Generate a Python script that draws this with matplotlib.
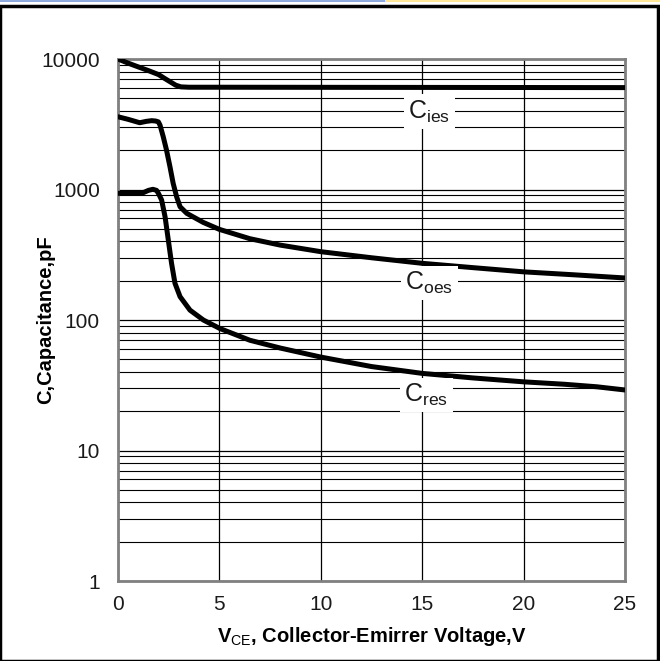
import numpy as np
import matplotlib
matplotlib.use("Agg")
import matplotlib.pyplot as plt
from matplotlib.patches import Rectangle
from matplotlib.ticker import LogLocator, FixedLocator, NullFormatter, FixedFormatter

plt.rcParams['font.family'] = ['Liberation Sans', 'DejaVu Sans']
plt.rcParams['mathtext.fontset'] = 'custom'
plt.rcParams['mathtext.rm'] = 'Liberation Sans'
plt.rcParams['mathtext.bf'] = 'Liberation Sans:bold'
plt.rcParams['mathtext.it'] = 'Liberation Sans:italic'

# Capacitance vs collector-emitter voltage (pF)
vce_ies = [0, 0.5, 1.0, 1.5, 2.0, 2.3, 2.6, 2.85, 3.1, 3.5, 5, 10, 15, 20, 25]
c_ies = [10000, 9300, 8700, 8150, 7600, 7100, 6650, 6300, 6120, 6080, 6080, 6070, 6060, 6050, 6040]

vce_oes = [0, 0.5, 1.07, 1.4, 1.66, 1.85, 1.99, 2.07, 2.23, 2.39, 2.56, 2.72, 2.89, 3.06, 3.39,
           4.2, 5.0, 6.5, 8.0, 10.0, 12.5, 15.0, 17.5, 20.0, 22.5, 25.0]
c_oes = [3610, 3450, 3250, 3330, 3370, 3350, 3300, 3120, 2540, 2010, 1500, 1115, 880, 738, 657,
         560, 495, 420, 375, 334, 300, 272, 252, 234, 222, 210]

vce_res = [0, 1.17, 1.5, 1.72, 1.9, 2.0, 2.15, 2.32, 2.48, 2.64, 2.81, 3.06, 3.55, 4.21, 5.03,
           6.5, 8.0, 10.0, 12.5, 15.0, 17.5, 20.0, 22.0, 23.6, 25.0]
c_res = [935, 935, 985, 1004, 985, 930, 832, 619, 410, 272, 191, 151, 119, 100, 86,
         70, 61, 52, 44, 39, 36, 33.6, 32.2, 30.8, 29.1]

x_ticks = [0, 5, 10, 15, 20, 25]
y_ticks = [1, 10, 100, 1000, 10000]
y_tick_labels = ['1', '10', '100', '1000', '10000']

curve_labels = [('C$_{\\mathrm{ies}}$', 15.35, 3960),
                ('C$_{\\mathrm{oes}}$', 15.35, 192),
                ('C$_{\\mathrm{res}}$', 15.2, 26.6)]

fig = plt.figure(figsize=(6.6, 6.61), dpi=100)
ax = fig.add_axes([0.1788, 0.1210, 0.7682, 0.7897])

ax.set_yscale('log')
ax.set_xlim(0, 25)
ax.set_ylim(1, 10000)

ax.yaxis.set_major_locator(FixedLocator(y_ticks))
ax.yaxis.set_major_formatter(FixedFormatter(y_tick_labels))
ax.yaxis.set_minor_locator(LogLocator(base=10, subs=np.arange(2, 10)))
ax.yaxis.set_minor_formatter(NullFormatter())
ax.xaxis.set_major_locator(FixedLocator(x_ticks))

ax.grid(which='major', color='black', lw=0.9)
ax.grid(which='minor', axis='y', color='black', lw=0.8)
ax.set_axisbelow(True)

for s in ax.spines.values():
    s.set_color('#808080')
    s.set_linewidth(2.0)

ax.tick_params(axis='both', which='both', length=0, labelsize=15, colors='#1a1a1a')
ax.tick_params(axis='y', pad=13)
ax.tick_params(axis='x', pad=10)

for xs, ys in [(vce_ies, c_ies), (vce_oes, c_oes), (vce_res, c_res)]:
    ax.plot(xs, ys, color='black', lw=3.6, solid_capstyle='round',
            solid_joinstyle='round', zorder=3)

for txt, x, y in curve_labels:
    ax.text(x, y, txt, fontsize=18, ha='center', va='center', zorder=4, color='#1a1a1a',
            bbox=dict(facecolor='white', edgecolor='none', pad=3))

ax.set_xlabel(r'$\mathbf{V}_{\mathrm{CE}}$, Collector-Emirrer Voltage,V',
              fontsize=14.5, fontweight='bold', labelpad=8)
ax.set_ylabel('C,Capacitance,pF', fontsize=14.5, fontweight='bold')
ax.yaxis.set_label_coords(-0.125, 0.5)

# outer frame and top strip
fig.patches.append(Rectangle((0.0, 0.0), 0.997, 0.9905, transform=fig.transFigure,
                             fill=False, edgecolor='black', lw=2.5))
fig.patches.append(Rectangle((0.0, 0.997), 0.583, 0.004, transform=fig.transFigure,
                             facecolor='#8EA9DB', edgecolor='none'))
fig.patches.append(Rectangle((0.583, 0.997), 0.417, 0.004, transform=fig.transFigure,
                             facecolor='#FFE699', edgecolor='none'))

fig.savefig('out.png', dpi=100)
